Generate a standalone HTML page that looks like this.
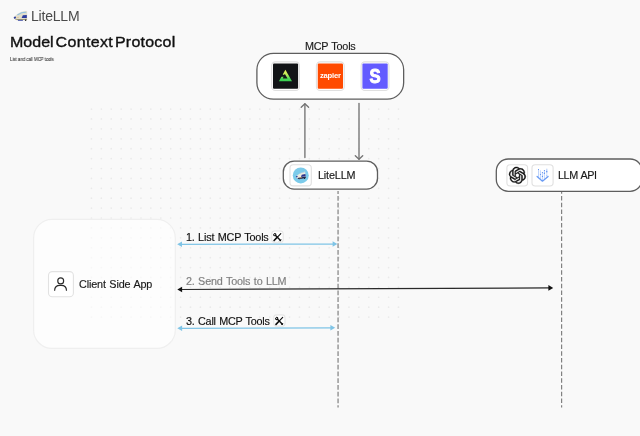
<!DOCTYPE html>
<html lang="en">
<head>
<meta charset="utf-8">
<title>LiteLLM - Model Context Protocol</title>
<style>
  html, body { margin: 0; padding: 0; }
  body {
    width: 640px; height: 436px; overflow: hidden; position: relative;
    background: #f9f9f9;
    font-family: "Liberation Sans", sans-serif;
    color: #111;
  }
  .abs { position: absolute; }
  .lbl, .brand, .sub, h1 { will-change: transform; }
  .brand { left: 31px; top: 7.3px; font-size: 14px; line-height: 18px; color: #4a4a4a; letter-spacing: -0.2px; white-space: nowrap; }
  h1 { margin: 0; word-spacing: -2.3px; left: 10.4px; top: 32.2px; font-size: 14.7px; line-height: 20px; font-weight: 400; -webkit-text-stroke: 0.36px #111; color: #111; white-space: nowrap; letter-spacing: 0; transform: scaleX(1.09); transform-origin: 0 0; }
  .sub { left: 10.15px; top: 55.8px; font-size: 4.8px; line-height: 8px; color: #2a2a2a; white-space: nowrap; transform: scaleX(0.9); transform-origin: 0 0; -webkit-text-stroke: 0.05px #2a2a2a; }
  .lbl { font-size: 10.8px; line-height: 14px; word-spacing: 0.6px; -webkit-text-stroke-width: 0.16px; white-space: nowrap; color: #1a1a1a; }
  svg { position: absolute; left: 0; top: 0; overflow: visible; }
</style>
</head>
<body>

<svg width="640" height="436" viewBox="0 0 640 436" style="z-index:0">
  <g stroke="#eaeaea" stroke-width="1.7" stroke-linecap="round" stroke-dasharray="0.001 9.904" fill="none">
    <path d="M91.44 109.06 H398.8"/>
    <path d="M91.44 118.97 H398.8"/>
    <path d="M91.44 128.87 H398.8"/>
    <path d="M91.44 138.78 H398.8"/>
    <path d="M91.44 148.68 H398.8"/>
    <path d="M91.44 158.59 H398.8"/>
    <path d="M91.44 168.49 H398.8"/>
    <path d="M91.44 178.39 H398.8"/>
    <path d="M91.44 188.30 H398.8"/>
    <path d="M91.44 198.20 H398.8"/>
    <path d="M91.44 208.11 H398.8"/>
    <path d="M91.44 218.01 H398.8"/>
    <path d="M91.44 227.92 H398.8"/>
    <path d="M91.44 237.82 H398.8"/>
    <path d="M91.44 247.73 H398.8"/>
    <path d="M91.44 257.63 H398.8"/>
    <path d="M91.44 267.54 H398.8"/>
    <path d="M91.44 277.44 H398.8"/>
    <path d="M91.44 287.35 H398.8"/>
    <path d="M91.44 297.25 H398.8"/>
    <path d="M91.44 307.16 H398.8"/>
    <path d="M91.44 317.06 H398.8"/>
  </g>
</svg>

<!-- header -->
<svg width="640" height="436" viewBox="0 0 640 436" style="z-index:1">
  <!-- train logo -->
  <g id="logo-train">
    <path d="M13.9 17.7 C15.6 15.4 18.6 13.2 22 12 C23.8 11.4 25.4 11.2 26.7 11.3 L26.9 19.8 L17.4 20 C15.6 19.6 14.2 18.8 13.9 17.7 Z" fill="#e2dfcc" stroke="#cfcbb6" stroke-width="0.35"/>
    <path d="M14.4 18.4 C17 19.2 21 19.2 26.9 18.7 L26.9 20 L17.4 20.1 C16 19.8 15 19.2 14.4 18.4 Z" fill="#9a957a"/>
    <path d="M17.8 14.7 C20.2 13.2 23 12.3 25.8 12.3" fill="none" stroke="#8fc1e2" stroke-width="1.1" stroke-linecap="round"/>
    <path d="M22.8 15.3 L26.8 15 L26.8 18 L21.6 18.1 Z" fill="#2b3b9e"/>
    <ellipse cx="14.9" cy="17.6" rx="1.15" ry="0.95" fill="#2b3ea3" transform="rotate(-25 14.9 17.6)"/>
    <path d="M17.9 20.4 H22.9" stroke="#2b3b9e" stroke-width="0.8" fill="none"/>
    <circle cx="25.6" cy="20.3" r="0.75" fill="#222"/>
    <path d="M16.5 17.6 L19 17.3" stroke="#e0b070" stroke-width="0.5" fill="none"/>
  </g>

  <!-- vertical connectors between MCP Tools and LiteLLM -->
  <g stroke="#747474" stroke-width="1.35" fill="none" stroke-linecap="round" stroke-linejoin="round">
    <path d="M304.9 157.6 V104"/>
    <path d="M301.2 107.2 L304.9 103.7 L308.6 107.2"/>
    <path d="M359 103.4 V159"/>
    <path d="M355.3 155.8 L359 159.3 L362.7 155.8"/>
  </g>

  <!-- lifelines -->
  <g stroke="#707070" stroke-width="1.05" fill="none" stroke-dasharray="4.6 2.152" stroke-dashoffset="1.6">
    <path d="M338.05 190.9 V407.5"/>
    <path d="M561.65 190.8 V407.5"/>
  </g>

  <!-- arrow 1 -->
  <g stroke="#7fc4e6" fill="#7fc4e6" stroke-width="1.3">
    <path d="M180 244.3 L334 244.05" fill="none"/>
    <path d="M177.2 244.3 L182 241.6 L182 247 Z" stroke="none"/>
    <path d="M337.4 244.05 L332.6 241.35 L332.6 246.75 Z" stroke="none"/>
  </g>
  <!-- arrow 2 -->
  <g stroke="#2a2a2a" fill="#111" stroke-width="1.2">
    <path d="M180 289.5 L550 287.9" fill="none"/>
    <path d="M177.3 289.5 L182.1 286.7 L182.1 292.3 Z" stroke="none"/>
    <path d="M553.2 287.9 L548.4 285.1 L548.4 290.7 Z" stroke="none"/>
  </g>
  <!-- arrow 3 -->
  <g stroke="#7fc4e6" fill="#7fc4e6" stroke-width="1.3">
    <path d="M180 328.3 L332 327.8" fill="none"/>
    <path d="M177.3 328.3 L182.1 325.6 L182.1 331 Z" stroke="none"/>
    <path d="M335.2 327.8 L330.4 325.1 L330.4 330.5 Z" stroke="none"/>
  </g>
</svg>

<div class="abs brand">LiteLLM</div>
<h1 class="abs"><span id="w1">Model</span> <span id="w2" style="letter-spacing:0.3px">Context</span> <span id="w3" style="letter-spacing:0.2px">Protocol</span></h1>
<div class="abs sub">List and call MCP tools</div>

<svg width="640" height="436" viewBox="0 0 640 436" style="z-index:2">
  <g fill="#ffffff" stroke="#5e5e5e" stroke-width="1.3">
    <rect x="256.9" y="53.3" width="146.75" height="45.9" rx="16.5" ry="16.5"/>
    <rect x="283.3" y="161.15" width="94.2" height="27.9" rx="10.8" ry="10.8"/>
    <rect x="496.3" y="159" width="145.8" height="32.3" rx="12" ry="12"/>
  </g>
</svg>

<svg width="640" height="436" viewBox="0 0 640 436" style="z-index:3">
  <g fill="#ffffff">
    <rect x="271.65" y="61.85" width="27.80" height="28.65" rx="3.8" ry="3.8" stroke="#e0e0e0" stroke-width="1.1"/>
    <rect x="316.40" y="61.85" width="27.80" height="28.65" rx="3.8" ry="3.8" stroke="#e0e0e0" stroke-width="1.1"/>
    <rect x="361.15" y="61.85" width="27.80" height="28.65" rx="3.8" ry="3.8" stroke="#e0e0e0" stroke-width="1.1"/>
    <rect x="290.00" y="164.70" width="21.30" height="21.20" rx="3.2" ry="3.2" stroke="#e0e0e0" stroke-width="1.1"/>
    <rect x="506.90" y="164.80" width="20.70" height="21.15" rx="3.2" ry="3.2" stroke="#e0e0e0" stroke-width="1.1"/>
    <rect x="532.00" y="164.80" width="21.10" height="21.15" rx="3.2" ry="3.2" stroke="#e0e0e0" stroke-width="1.1"/>
    <rect x="48.50" y="271.60" width="24.90" height="25.10" rx="3.8" ry="3.8" stroke="#e2e2e2" stroke-width="1.1"/>
    <rect x="271.80" y="231.00" width="11.40" height="11.20" rx="2.8" ry="2.8" stroke="#e6e6e6" stroke-width="1.1"/>
    <rect x="273.80" y="314.90" width="11.20" height="11.20" rx="2.8" ry="2.8" stroke="#e6e6e6" stroke-width="1.1"/>
  </g>
</svg>

<!-- MCP Tools -->
<div class="abs lbl" style="left:305px; top:39px; letter-spacing:-0.21px;">MCP Tools</div>
<svg width="640" height="436" viewBox="0 0 640 436" style="z-index:5">
  <!-- green triangle mark -->
  <rect x="273" y="63.6" width="25.1" height="25.1" rx="1" fill="#121417"/>
  <rect x="317.75" y="63.6" width="25.25" height="25.1" rx="1" fill="#ff4a00"/>
  <rect x="362.4" y="63.6" width="25.3" height="25.1" rx="1" fill="#635bff"/>
  <defs>
    <linearGradient id="gtri" x1="0" y1="69.8" x2="0" y2="81.2" gradientUnits="userSpaceOnUse">
      <stop offset="0" stop-color="#f6f45c"/>
      <stop offset="0.45" stop-color="#b9ea58"/>
      <stop offset="0.75" stop-color="#4fd956"/>
      <stop offset="1" stop-color="#35cf52"/>
    </linearGradient>
  </defs>
  <g>
    <path d="M285.4 69.8 L292 81.15 L278.9 81.15 Z" fill="url(#gtri)"/>
    <path d="M284.9 73.9 L287.5 78.5 L282.7 78.5 L283.6 76.7 L280.4 76.7 L282 73.9 L283.9 74.9 Z" fill="#121417"/>
  </g>
  <text x="330.3" y="78.1" text-anchor="middle" font-family="Liberation Sans, sans-serif" font-size="7.7" font-weight="700" fill="#ffffff" letter-spacing="-0.25">zapier</text>
  <text transform="translate(375.1 83.3) scale(0.86 1)" x="0" y="0" text-anchor="middle" font-family="Liberation Sans, sans-serif" font-size="19.4" font-weight="700" fill="#ffffff" stroke="#ffffff" stroke-width="1" stroke-linejoin="round">S</text>
</svg>

<!-- LiteLLM node -->
<div class="abs lbl" style="left:317.5px; top:168.3px; z-index:3; letter-spacing:-0.145px;">LiteLLM</div>
<svg width="640" height="436" viewBox="0 0 640 436" style="z-index:5">
  <circle cx="300.75" cy="175.4" r="8" fill="#7ccbea"/>
  <g>
    <path d="M296 176.8 C297.4 174.9 300.6 172.6 305.1 171.6 L305.8 177.4 L298.6 179 C297 178.6 296.1 177.8 296 176.8 Z" fill="#eeece0"/>
    <path d="M299.2 173.6 C301 172.7 303 172.1 304.8 171.9" fill="none" stroke="#9ccbe6" stroke-width="0.7" stroke-linecap="round"/>
    <path d="M297.4 177.9 L305.7 176.4 L305.9 178 L299 179.3 C298.2 179 297.7 178.5 297.4 177.9 Z" fill="#20264f"/>
    <path d="M301.7 174.7 L305.4 174 L305.7 176.3 L301 177 Z" fill="#27348f"/>
    <ellipse cx="296.8" cy="176.6" rx="0.95" ry="0.75" fill="#2b3ea3" transform="rotate(-30 296.8 176.6)"/>
    <path d="M299.4 178 L301.6 177.6" stroke="#e7b24c" stroke-width="0.6" fill="none"/>
    <circle cx="304.6" cy="178.5" r="0.6" fill="#111"/>
  </g>
</svg>

<!-- LLM API node -->
<div class="abs lbl" style="left:558px; top:168.4px; z-index:3; letter-spacing:-0.395px;">LLM API</div>
<svg width="640" height="436" viewBox="0 0 640 436" style="z-index:5">
  <!-- OpenAI knot -->
  <g transform="translate(509.0 166.95) scale(0.70)">
    <path fill="#0d0d0d" stroke="#0d0d0d" stroke-width="0.55" d="M22.2819 9.8211a5.9847 5.9847 0 0 0-.5157-4.9108 6.0462 6.0462 0 0 0-6.5098-2.9A6.0651 6.0651 0 0 0 4.9807 4.1818a5.9847 5.9847 0 0 0-3.9977 2.9 6.0462 6.0462 0 0 0 .7427 7.0966 5.98 5.98 0 0 0 .511 4.9107 6.051 6.051 0 0 0 6.5146 2.9001A5.9847 5.9847 0 0 0 13.2599 24a6.0557 6.0557 0 0 0 5.7718-4.2058 5.9894 5.9894 0 0 0 3.9977-2.9001 6.0557 6.0557 0 0 0-.7475-7.0729zm-9.022 12.6081a4.4755 4.4755 0 0 1-2.8764-1.0408l.1419-.0804 4.7783-2.7582a.7948.7948 0 0 0 .3927-.6813v-6.7369l2.02 1.1686a.071.071 0 0 1 .038.052v5.5826a4.504 4.504 0 0 1-4.4945 4.4944zm-9.6607-4.1254a4.4708 4.4708 0 0 1-.5346-3.0137l.142.0852 4.783 2.7582a.7712.7712 0 0 0 .7806 0l5.8428-3.3685v2.3324a.0804.0804 0 0 1-.0332.0615L9.74 19.9502a4.4992 4.4992 0 0 1-6.1408-1.6464zM2.3408 7.8956a4.485 4.485 0 0 1 2.3655-1.9728V11.6a.7664.7664 0 0 0 .3879.6765l5.8144 3.3543-2.0201 1.1685a.0757.0757 0 0 1-.071 0l-4.8303-2.7865A4.504 4.504 0 0 1 2.3408 7.872zm16.5963 3.8558L13.1038 8.364 15.1192 7.2a.0757.0757 0 0 1 .071 0l4.8303 2.7913a4.4944 4.4944 0 0 1-.6765 8.1042v-5.6772a.79.79 0 0 0-.407-.667zm2.0107-3.0231l-.142-.0852-4.7735-2.7818a.7759.7759 0 0 0-.7854 0L9.409 9.2297V6.8974a.0662.0662 0 0 1 .0284-.0615l4.8303-2.7866a4.4992 4.4992 0 0 1 6.6802 4.66zM8.3065 12.863l-2.02-1.1638a.0804.0804 0 0 1-.038-.0567V6.0742a4.4992 4.4992 0 0 1 7.3757-3.4537l-.142.0805L8.704 5.459a.7948.7948 0 0 0-.3927.6813zm1.0976-2.3654l2.602-1.4998 2.6069 1.4998v2.9994l-2.5974 1.4997-2.6067-1.4997Z"/>
  </g>
  <!-- blue bars chevron icon -->
  <g stroke="#a9c5f9" stroke-width="0.75" fill="none">
    <path d="M538.5 169.2 V177.4"/>
    <path d="M540.4 170.3 V179"/>
    <path d="M542.4 172.1 V180.6"/>
    <path d="M544.4 170 V179"/>
    <path d="M546.8 168.7 V177.6" stroke-width="1.2" stroke-dasharray="1.1 0.5"/>
  </g>
  <g fill="#4a83ee">
    <circle cx="538.5" cy="169.5" r="0.5"/>
    <circle cx="540.4" cy="174.6" r="0.5"/>
    <circle cx="542.4" cy="172.5" r="0.5"/>
    <circle cx="542.4" cy="176.3" r="0.6"/>
    <circle cx="544.4" cy="170.4" r="0.5"/>
    <circle cx="544.4" cy="173.2" r="0.65"/>
    <circle cx="546.8" cy="171.4" r="0.6"/>
  </g>
  <path d="M537.1 176.5 L542.45 181.2 L548.1 176.5" fill="none" stroke="#5b91f3" stroke-width="1.25" stroke-linejoin="round" stroke-linecap="round" opacity="0.9"/>
</svg>

<!-- Client Side App -->
<svg width="640" height="436" viewBox="0 0 640 436" style="z-index:2">
  <rect x="33.6" y="219.4" width="141.7" height="129" rx="18.5" ry="18.5" fill="rgba(255,255,255,0.62)" stroke="#efefef" stroke-width="1.2"/>
</svg>
<div class="abs lbl" style="left:79.2px; top:277px; z-index:3; letter-spacing:-0.12px;">Client Side App</div>
<svg width="640" height="436" viewBox="0 0 640 436" style="z-index:5">
  <g fill="none" stroke="#2a2a2a" stroke-width="1.15">
    <circle cx="60.7" cy="280.9" r="2.95"/>
    <path d="M54.6 290.7 C54.6 287.4 56.8 285.3 60 285.3 H61.2 C64.4 285.3 66.5 287.4 66.5 290.7"/>
  </g>
</svg>

<!-- step labels -->
<div class="abs lbl" style="left:186.2px; top:230.2px; z-index:3; color:#111; letter-spacing:-0.166px;">1. List MCP Tools</div>
<div class="abs lbl" style="left:185.8px; top:274.4px; z-index:3; color:#7e7e7e; letter-spacing:-0.16px;">2. Send Tools to LLM</div>
<div class="abs lbl" style="left:185.8px; top:313.7px; z-index:3; color:#111; letter-spacing:-0.206px;">3. Call MCP Tools</div>
<svg width="640" height="436" viewBox="0 0 640 436" style="z-index:5">
  <g id="tools" stroke="#111" fill="none" stroke-linecap="round">
    <path d="M280.8 233.6 L277.7 236.8" stroke-width="1.15"/>
    <path d="M277.3 237.2 L274.1 240.5" stroke-width="1.7"/>
    <path d="M275.6 235.5 L280.5 240.4" stroke-width="1.4"/>
    <circle cx="274.8" cy="234.7" r="1.1" stroke-width="1.1"/>
    <path d="M274.6 234.5 L273.2 233.1" stroke="#fff" stroke-width="0.8" stroke-linecap="butt"/>
    <path d="M279.6 240.9 L281 239.5" stroke-width="0.9"/>
  </g>
  <use href="#tools" transform="translate(1.9 83.8)"/>
</svg>

</body>
</html>
